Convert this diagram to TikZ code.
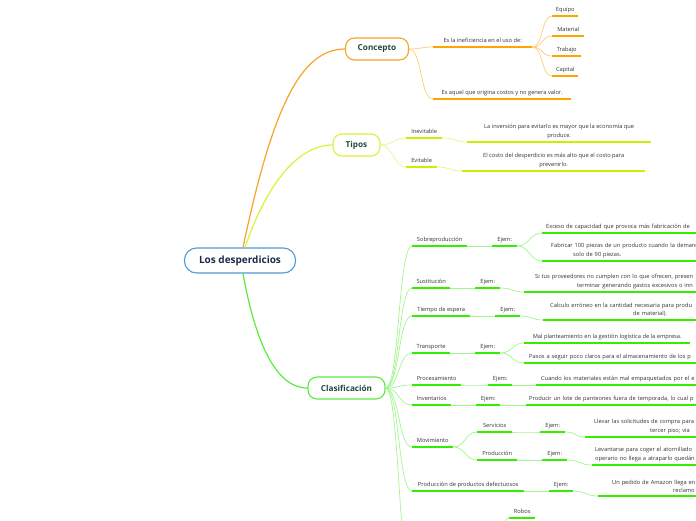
\documentclass[tikz,border=0pt]{standalone}
\usepackage{fontspec}
\setmainfont{Open Sans}
\usepackage{xcolor}
\usepackage{tikz}

\definecolor{mainblue}{HTML}{4A9BD9}
\definecolor{maintext}{HTML}{1B2A4A}
\definecolor{topictext}{HTML}{1E4A3C}
\definecolor{txt}{HTML}{333333}
\definecolor{orange1}{HTML}{F7A325}
\definecolor{orangeline}{HTML}{FFA500}
\definecolor{orangelink}{HTML}{FFCC77}
\definecolor{lime1}{HTML}{D6F23A}
\definecolor{limeline}{HTML}{C8F000}
\definecolor{limelink}{HTML}{E4F78C}
\definecolor{green1}{HTML}{5BEB3F}
\definecolor{greenline}{HTML}{33EE00}
\definecolor{greenlink}{HTML}{A3F58F}

\newcommand{\indt}[1]{\hspace*{#1pt}}

\begin{document}
\begin{tikzpicture}[x=1pt, y=-1pt,
    topic/.style={draw, rounded corners=9pt, line width=1.1pt, fill=white, minimum height=22pt,
        inner sep=0pt, font=\fontsize{8.2}{10}\selectfont\bfseries, text=topictext},
    base/.style={anchor=south west, inner xsep=3pt, inner ysep=3pt, text=txt,
        font=\fontsize{5.7}{8.7}\selectfont},
    lbl/.style={base, text height=4.3pt, text depth=1.4pt, align=center},
    cut/.style={base, text width=240pt, align=left},
    olink/.style={orangelink, line width=0.7pt},
    ylink/.style={limelink, line width=0.7pt},
    glink/.style={greenlink, line width=0.7pt}]
    \useasboundingbox (0,0) rectangle (696,520);
    \clip (0,0) rectangle (696,520);

    % central topic and main branches
    \node[topic, draw=mainblue, rounded corners=12pt, minimum width=111pt, minimum height=25pt,
        font=\fontsize{10}{12}\selectfont\bfseries, text=maintext] (main) at (240,260.5) {Los desperdicios};
    \node[topic, draw=orange1, minimum width=63pt] (con) at (377,49) {Concepto};
    \node[topic, draw=lime1, minimum width=47pt] (tip) at (356.5,145) {Tipos};
    \node[topic, draw=green1, minimum width=77pt] (cla) at (346.5,388) {Clasificación};

    \draw[orange1, line width=1.2pt] ([xshift=3pt]main.north) .. controls (272,110) and (300,49) .. (con.west);
    \draw[lime1, line width=1.2pt] ([xshift=5pt]main.north) .. controls (268,180) and (300,145) .. (tip.west);
    \draw[green1, line width=1.2pt] ([xshift=3pt]main.south) .. controls (255,340) and (275,388) .. (cla.west);

    % Concepto
    \node[lbl, minimum width=99pt] (ine) at (433,47) {Es la ineficiencia en el uso de:};
    \node[lbl, minimum width=26pt] (equ) at (552,16) {Equipo};
    \node[lbl, minimum width=32pt] (mat) at (552,36) {Material};
    \node[lbl, minimum width=29pt] (trab) at (552,56) {Trabajo};
    \node[lbl, minimum width=26pt] (cap) at (552,76) {Capital};
    \node[lbl, minimum width=138pt] (aqu) at (433,99) {Es aquel que origina costos y no genera valor.};

    \foreach \b in {ine,aqu}
        \draw[olink] (con.east) .. controls +(13,0) and +(-13,0) .. (\b.south west);
    \foreach \b in {equ,mat,trab,cap}
        \draw[olink] (ine.south east) .. controls +(11,0) and +(-11,0) .. (\b.south west);
    \foreach \n in {ine,equ,mat,trab,cap,aqu}
        \draw[orangeline, line width=1.3pt] (\n.south west) -- (\n.south east);

    % Tipos
    \node[lbl, minimum width=36pt] (inev) at (406,138) {Inevitable};
    \node[lbl, minimum width=184pt] (inevx) at (467,142) {La inversión para evitarlo es mayor que la economía que\\produce.};
    \node[lbl, minimum width=31pt] (evit) at (406,167) {Evitable};
    \node[lbl, minimum width=183pt] (evitx) at (462,171) {El costo del desperdicio es más alto que el costo para\\prevenirlo.};

    \foreach \b in {inev,evit}
        \draw[ylink] (tip.east) .. controls +(12,0) and +(-12,0) .. (\b.south west);
    \foreach \a/\b in {inev/inevx,evit/evitx}
        \draw[ylink] (\a.south east) .. controls +(13,0) and +(-13,0) .. (\b.south west);
    \foreach \n in {inev,inevx,evit,evitx}
        \draw[limeline, line width=1.3pt] (\n.south west) -- (\n.south east);

    % Clasificacion
    \node[lbl, minimum width=55pt] (sob) at (412,246) {Sobreproducción};
    \node[lbl, minimum width=25pt] (sobj) at (492,246) {Ejem:};
    \node[cut] (sob1) at (542,233) {\indt{1}Exceso de capacidad que provoca más fabricación de};
    \node[cut] (sob2) at (542,261) {\indt{6}Fabricar 100 piezas de un producto cuando la demanda\\\indt{28}solo de 90 piezas.};

    \node[lbl, minimum width=38pt] (sus) at (412,288) {Sustitución};
    \node[lbl, minimum width=25pt] (susj) at (475,288) {Ejem:};
    \node[cut] (sus1) at (524,292) {\indt{8}Si tus proveedores no cumplen con lo que ofrecen, presen\\\indt{50}terminar generando gastos excesivos o inn};

    \node[lbl, minimum width=58pt] (esp) at (412,316) {Tiempo de espera};
    \node[lbl, minimum width=25pt] (espj) at (495,316) {Ejem:};
    \node[cut] (esp1) at (543,320) {\indt{4}Calculo erróneo en la cantidad necesaria para produ\\\indt{87}de material).};

    \node[lbl, minimum width=38pt] (trp) at (412,353) {Transporte};
    \node[lbl, minimum width=25pt] (trpj) at (475,353) {Ejem:};
    \node[lbl, minimum width=166pt] (trp1) at (524,343) {Mal planteamiento en la gestión logística de la empresa.};
    \node[cut] (trp2) at (524,363) {\indt{2}Pasos a seguir poco claros para el almacenamiento de los p};

    \node[lbl, minimum width=49pt] (prc) at (412,385) {Procesamiento};
    \node[lbl, minimum width=24pt] (prcj) at (488,385) {Ejem:};
    \node[cut] (prc1) at (536,385) {\indt{2}Cuando los materiales están mal empaquetados por el e};

    \node[lbl, minimum width=39pt] (inv) at (412,405) {Inventarios};
    \node[lbl, minimum width=24pt] (invj) at (476,405) {Ejem:};
    \node[cut] (inv1) at (526,405) {Producir un lote de panteones fuera de temporada, lo cual p};

    \node[lbl, minimum width=41pt] (mov) at (412,447) {Movimiento};
    \node[lbl, minimum width=35pt] (ser) at (477,432) {Servicios};
    \node[lbl, minimum width=25pt] (serj) at (540,432) {Ejem:};
    \node[cut] (ser1) at (585,437) {\indt{6}Llevar las solicitudes de compra para\\\indt{62}tercer piso; via};
    \node[lbl, minimum width=40pt] (prd) at (477,460) {Producción};
    \node[lbl, minimum width=25pt] (prdj) at (542,460) {Ejem:};
    \node[cut] (prd1) at (592,465) {Levantarse para coger el atornillado\\operario no llega a atraparlo quedán};

    \node[lbl, minimum width=112pt] (def) at (412,491) {Producción de productos defectuosos};
    \node[lbl, minimum width=24pt] (defj) at (549,491) {Ejem:};
    \node[cut] (def1) at (598,496) {\indt{11}Un pedido de Amazon llega en\\\indt{72}reclamo c};

    \node[lbl, minimum width=26pt] (rob) at (509,518) {Robos};
    \coordinate (oth) at (412,575);
    \coordinate (othx) at (492,575);

    \foreach \b in {sob,sus,esp,trp,prc,inv,mov,def,oth}
        \draw[glink] (cla.east) .. controls +(14,0) and +(-14,0) .. (\b.south west);
    \foreach \a/\b in {sob/sobj,sobj/sob1,sobj/sob2,sus/susj,susj/sus1,esp/espj,espj/esp1,
        trp/trpj,trpj/trp1,trpj/trp2,prc/prcj,prcj/prc1,inv/invj,invj/inv1,mov/ser,mov/prd,
        ser/serj,serj/ser1,prd/prdj,prdj/prd1,def/defj,defj/def1}
        \draw[glink] (\a.south east) .. controls +(12,0) and +(-12,0) .. (\b.south west);
    \draw[glink] (othx) .. controls +(10,0) and +(-10,0) .. (rob.south west);
    \foreach \n in {sob,sobj,sob1,sob2,sus,susj,sus1,esp,espj,esp1,trp,trpj,trp1,trp2,prc,prcj,prc1,
        inv,invj,inv1,mov,ser,serj,ser1,prd,prdj,prd1,def,defj,def1,rob}
        \draw[greenline, line width=1.3pt] (\n.south west) -- (\n.south east);
\end{tikzpicture}
\end{document}
